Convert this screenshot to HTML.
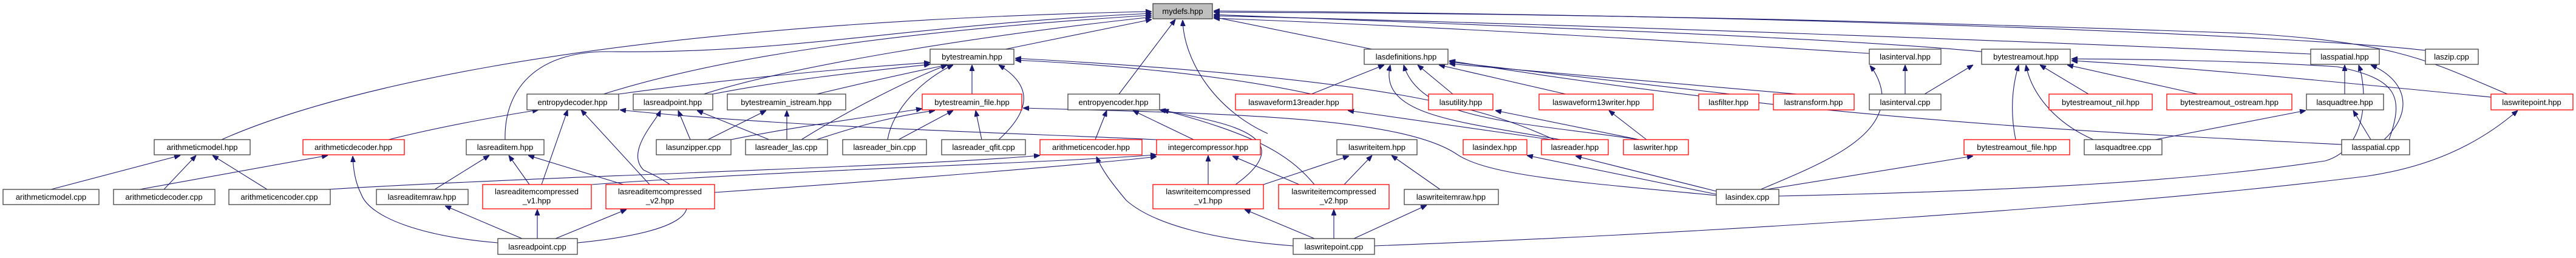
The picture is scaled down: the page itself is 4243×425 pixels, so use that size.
<!DOCTYPE html>
<html><head><meta charset="utf-8"><style>
html,body{margin:0;padding:0;background:#fff;}
svg{display:block;}
text{font-family:"Liberation Sans","DejaVu Sans",sans-serif;font-size:13px;text-anchor:middle;fill:#000;}
.b{fill:#fff;stroke:#404040;stroke-width:1.3;}
.r{fill:#fff;stroke:#ff0000;stroke-width:1.3;}
.g{fill:#bfbfbf;stroke:#404040;stroke-width:1.3;}
path{fill:none;stroke:#191970;stroke-width:1.1;marker-end:url(#a);}
</style></head><body>
<svg width="4243" height="425" viewBox="0 0 4243 425" xmlns="http://www.w3.org/2000/svg">
<defs><marker id="a" markerWidth="10" markerHeight="8" refX="10" refY="4" orient="auto" markerUnits="userSpaceOnUse"><polygon points="0,0 10,4 0,8" fill="#191970" stroke="#191970"/></marker></defs>

<!-- edges -->
<path d="M84,312 L297,256"/>
<path d="M270,312 L323,256"/>
<path d="M440,312 L350,256"/>
<path d="M230,312 L540,256"/>
<path d="M540,312 C900,290 1500,275 1713,256"/>
<path d="M365,230 C500,170 900,40 1897,19"/>
<path d="M640,230 C720,210 800,195 887,181"/>
<path d="M820,400 C700,390 610,360 595,320 C585,300 582,280 581,257"/>
<path d="M860,393 L733,339"/>
<path d="M885,393 L885,345"/>
<path d="M915,393 L1032,345"/>
<path d="M951,400 C1100,385 1210,350 1060,280 C1030,250 1080,200 1088,182"/>
<path d="M716,312 L806,256"/>
<path d="M872,304 L838,256"/>
<path d="M1027,304 L870,256"/>
<path d="M892,304 L935,181"/>
<path d="M1070,304 L957,181"/>
<path d="M832,230 C830,150 880,85 1000,85 C1300,90 1500,40 1897,22"/>
<path d="M975,304 C1300,280 1700,270 1905,255"/>
<path d="M1177,317 C1500,295 1800,270 1905,258"/>
<path d="M1137,230 L1117,182"/>
<path d="M1166,230 L1262,182"/>
<path d="M1204,230 C1300,210 1450,190 1519,179"/>
<path d="M1267,230 L1148,182"/>
<path d="M1296,230 L1296,182"/>
<path d="M1320,230 C1400,180 1500,130 1560,107"/>
<path d="M1345,230 C1420,205 1480,190 1540,182"/>
<path d="M1905,230 C1700,220 1300,210 1021,181"/>
<path d="M994,155 C1200,90 1500,50 1897,25"/>
<path d="M1019,155 C1200,130 1400,112 1532,103"/>
<path d="M1159,155 C1300,110 1600,60 1897,28"/>
<path d="M1174,155 C1300,130 1450,115 1532,106"/>
<path d="M1345,155 C1450,130 1520,115 1560,107"/>
<path d="M1462,230 C1470,180 1520,130 1570,107"/>
<path d="M1480,230 L1570,182"/>
<path d="M1617,230 L1607,182"/>
<path d="M1645,230 C1700,180 1700,140 1645,107"/>
<path d="M1601,155 L1601,107"/>
<path d="M1656,81 L1897,32"/>
<path d="M2560,230 C2450,180 2300,130 1672,96"/>
<path d="M2160,155 C2000,120 1800,105 1672,99"/>
<path d="M1843,155 L1936,32"/>
<path d="M1804,230 L1823,182"/>
<path d="M1966,230 L1866,182"/>
<path d="M1990,304 L1990,256"/>
<path d="M2035,304 C2110,250 2080,220 2000,200 C1960,190 1935,185 1910,181"/>
<path d="M2165,304 C2120,250 2060,220 1915,181"/>
<path d="M2140,304 L2030,257"/>
<path d="M2165,393 L2050,345"/>
<path d="M2197,393 L2197,345"/>
<path d="M2230,393 L2350,338"/>
<path d="M2372,312 L2292,256"/>
<path d="M2214,304 L2260,256"/>
<path d="M2081,304 L2222,257"/>
<path d="M2130,405 C2000,395 1900,370 1855,330 C1830,300 1815,280 1806,258"/>
<path d="M2264,405 C2800,385 3500,340 3900,290 C4000,275 4080,240 4147,182"/>
<path d="M2827,320 L2515,256"/>
<path d="M2827,315 L2595,257"/>
<path d="M2827,322 C2600,300 2450,290 2398,253 C2300,190 2000,187 1685,178"/>
<path d="M2900,312 C3000,270 3100,230 3100,160 C3100,140 3090,120 3080,108"/>
<path d="M2910,312 L3250,257"/>
<path d="M2930,323 C3300,315 3600,300 3830,265 C3900,245 3900,150 3885,107"/>
<path d="M2260,81 L1999,28"/>
<path d="M2160,155 L2280,107"/>
<path d="M2393,155 L2335,107"/>
<path d="M2579,155 L2370,107"/>
<path d="M2570,230 C2400,200 2270,190 2290,107"/>
<path d="M2700,230 C2500,200 2340,200 2312,107"/>
<path d="M2700,230 L2463,182"/>
<path d="M2712,230 L2650,182"/>
<path d="M2555,230 L2220,182"/>
<path d="M2850,155 L2387,102"/>
<path d="M2960,155 L2387,105"/>
<path d="M3138,155 L3138,107"/>
<path d="M3170,155 L3250,107"/>
<path d="M3264,85 C3000,60 2400,40 1999,24"/>
<path d="M3079,88 C2800,70 2400,45 1999,30"/>
<path d="M3440,155 L3360,107"/>
<path d="M3620,155 L3405,107"/>
<path d="M3320,230 C3310,180 3315,140 3325,107"/>
<path d="M3448,230 C3380,200 3345,150 3337,107"/>
<path d="M3550,230 L3798,182"/>
<path d="M3905,230 L3876,182"/>
<path d="M3862,155 L3862,107"/>
<path d="M3927,230 C3980,180 3960,130 3905,107"/>
<path d="M3935,230 C3960,160 3950,130 3850,110 C3700,100 3500,97 3412,97"/>
<path d="M3857,238 C3500,220 3000,200 2387,100"/>
<path d="M4103,160 C3900,140 3600,110 3412,100"/>
<path d="M4130,155 C4000,100 3950,70 3700,55 C3000,30 2500,22 1999,20"/>
<path d="M3995,83 C3800,60 3000,25 1999,18"/>
<path d="M3806,89 C3400,70 2600,40 1999,26"/>
<path d="M2088,220 C2000,180 1950,100 1948,33"/>

<!-- nodes -->
<rect class="g" x="1899" y="6" width="98" height="25"/><text x="1948" y="23">mydefs.hpp</text>
<rect class="b" x="1532" y="81" width="138" height="25"/><text x="1601" y="98">bytestreamin.hpp</text>
<rect class="b" x="2247" y="81" width="138" height="25"/><text x="2316" y="98">lasdefinitions.hpp</text>
<rect class="b" x="3079" y="81" width="118" height="25"/><text x="3138" y="98">lasinterval.hpp</text>
<rect class="b" x="3264" y="81" width="146" height="25"/><text x="3337" y="98">bytestreamout.hpp</text>
<rect class="b" x="3806" y="81" width="113" height="25"/><text x="3862" y="98">lasspatial.hpp</text>
<rect class="b" x="3995" y="81" width="87" height="25"/><text x="4038" y="98">laszip.cpp</text>

<rect class="b" x="868" y="155" width="151" height="26"/><text x="943" y="173">entropydecoder.hpp</text>
<rect class="b" x="1043" y="155" width="131" height="26"/><text x="1108" y="173">lasreadpoint.hpp</text>
<rect class="b" x="1198" y="155" width="195" height="26"/><text x="1295" y="173">bytestreamin_istream.hpp</text>
<rect class="r" x="1519" y="155" width="164" height="26"/><text x="1601" y="173">bytestreamin_file.hpp</text>
<rect class="b" x="1759" y="155" width="151" height="26"/><text x="1834" y="173">entropyencoder.hpp</text>
<rect class="r" x="2035" y="155" width="193" height="26"/><text x="2131" y="173">laswaveform13reader.hpp</text>
<rect class="r" x="2353" y="155" width="106" height="26"/><text x="2406" y="173">lasutility.hpp</text>
<rect class="r" x="2535" y="155" width="188" height="26"/><text x="2629" y="173">laswaveform13writer.hpp</text>
<rect class="r" x="2798" y="155" width="99" height="26"/><text x="2847" y="173">lasfilter.hpp</text>
<rect class="r" x="2921" y="155" width="133" height="26"/><text x="2987" y="173">lastransform.hpp</text>
<rect class="b" x="3079" y="155" width="118" height="26"/><text x="3138" y="173">lasinterval.cpp</text>
<rect class="r" x="3375" y="155" width="170" height="26"/><text x="3460" y="173">bytestreamout_nil.hpp</text>
<rect class="r" x="3569" y="155" width="206" height="26"/><text x="3672" y="173">bytestreamout_ostream.hpp</text>
<rect class="b" x="3799" y="155" width="127" height="26"/><text x="3862" y="173">lasquadtree.hpp</text>
<rect class="r" x="4103" y="155" width="135" height="26"/><text x="4170" y="173">laswritepoint.hpp</text>

<rect class="b" x="254" y="230" width="158" height="25"/><text x="333" y="247">arithmeticmodel.hpp</text>
<rect class="r" x="499" y="230" width="167" height="25"/><text x="582" y="247">arithmeticdecoder.hpp</text>
<rect class="b" x="768" y="230" width="128" height="25"/><text x="832" y="247">lasreaditem.hpp</text>
<rect class="b" x="1081" y="230" width="123" height="25"/><text x="1142" y="247">lasunzipper.cpp</text>
<rect class="b" x="1228" y="230" width="135" height="25"/><text x="1295" y="247">lasreader_las.cpp</text>
<rect class="b" x="1388" y="230" width="138" height="25"/><text x="1457" y="247">lasreader_bin.cpp</text>
<rect class="b" x="1551" y="230" width="138" height="25"/><text x="1620" y="247">lasreader_qfit.cpp</text>
<rect class="r" x="1713" y="230" width="168" height="25"/><text x="1797" y="247">arithmeticencoder.hpp</text>
<rect class="r" x="1905" y="230" width="171" height="25"/><text x="1990" y="247">integercompressor.hpp</text>
<rect class="b" x="2202" y="230" width="132" height="25"/><text x="2268" y="247">laswriteitem.hpp</text>
<rect class="r" x="2410" y="230" width="105" height="25"/><text x="2462" y="247">lasindex.hpp</text>
<rect class="r" x="2539" y="230" width="110" height="25"/><text x="2594" y="247">lasreader.hpp</text>
<rect class="r" x="2674" y="230" width="107" height="25"/><text x="2727" y="247">laswriter.hpp</text>
<rect class="r" x="3235" y="230" width="174" height="25"/><text x="3322" y="247">bytestreamout_file.hpp</text>
<rect class="b" x="3433" y="230" width="128" height="25"/><text x="3497" y="247">lasquadtree.cpp</text>
<rect class="b" x="3857" y="230" width="112" height="25"/><text x="3913" y="247">lasspatial.cpp</text>

<rect class="b" x="5" y="312" width="158" height="25"/><text x="84" y="329">arithmeticmodel.cpp</text>
<rect class="b" x="187" y="312" width="167" height="25"/><text x="270" y="329">arithmeticdecoder.cpp</text>
<rect class="b" x="377" y="312" width="167" height="25"/><text x="460" y="329">arithmeticencoder.cpp</text>
<rect class="b" x="620" y="312" width="151" height="25"/><text x="695" y="329">lasreaditemraw.hpp</text>
<rect class="r" x="795" y="304" width="179" height="40"/><text x="884" y="320">lasreaditemcompressed</text><text x="884" y="335">_v1.hpp</text>
<rect class="r" x="998" y="304" width="179" height="40"/><text x="1087" y="320">lasreaditemcompressed</text><text x="1087" y="335">_v2.hpp</text>
<rect class="r" x="1899" y="304" width="182" height="40"/><text x="1990" y="320">laswriteitemcompressed</text><text x="1990" y="335">_v1.hpp</text>
<rect class="r" x="2106" y="304" width="182" height="40"/><text x="2197" y="320">laswriteitemcompressed</text><text x="2197" y="335">_v2.hpp</text>
<rect class="b" x="2313" y="312" width="155" height="25"/><text x="2390" y="329">laswriteitemraw.hpp</text>
<rect class="b" x="2827" y="312" width="103" height="25"/><text x="2878" y="329">lasindex.cpp</text>

<rect class="b" x="820" y="393" width="131" height="26"/><text x="885" y="411">lasreadpoint.cpp</text>
<rect class="b" x="2130" y="393" width="134" height="26"/><text x="2197" y="411">laswritepoint.cpp</text>
</svg>
</body></html>
